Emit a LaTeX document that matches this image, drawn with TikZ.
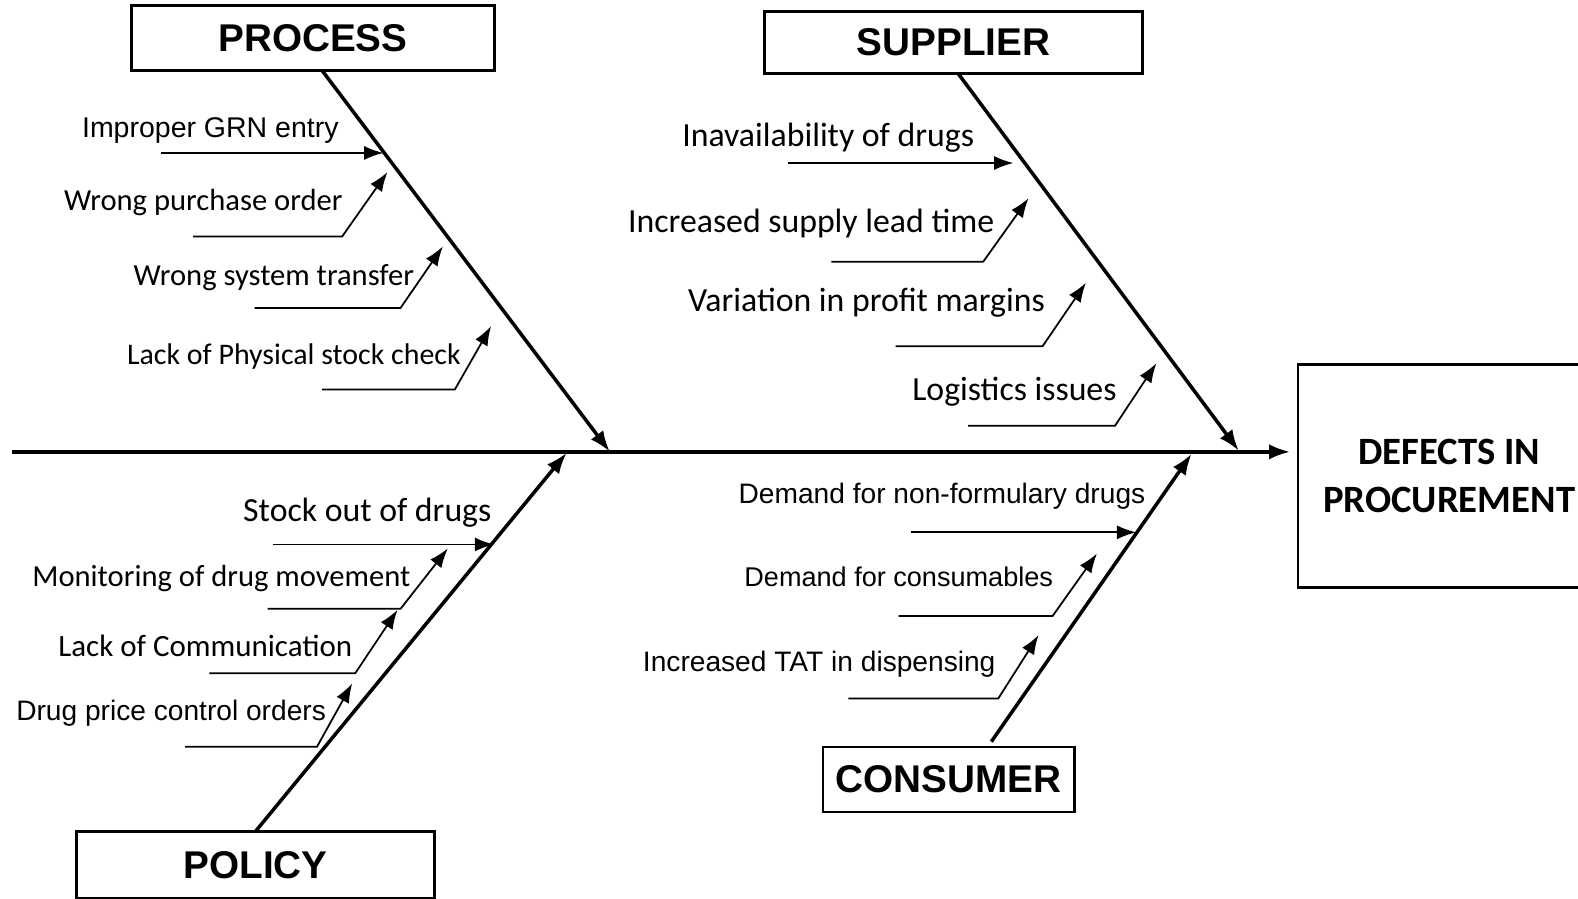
\documentclass[tikz,border=0pt]{standalone}
\usepackage{fontspec}
\setmainfont{Liberation Sans}
\newfontfamily\calibri{Carlito}
\usetikzlibrary{arrows.meta}

\begin{document}
\begin{tikzpicture}[x = 0.01006cm, y = -0.01006cm,
    bone/.style = {line width = 1pt, -{Latex[length = 6pt, width = 4.4pt]}},
    rib/.style = {line width = 0.5pt, -{Latex[length = 5.5pt, width = 4pt]}},
    head/.style = {draw, line width = 0.8pt, inner sep = 0pt, font = \bfseries\fontsize{11}{13}\selectfont},
    arial/.style = {inner sep = 0pt, yshift = -0.8pt, font = \fontsize{#1}{#1}\selectfont},
    calib/.style = {inner sep = 0pt, yshift = -0.8pt, font = \calibri\fontsize{#1}{#1}\selectfont}]
    \useasboundingbox (0,0) rectangle (1568,893);
    % Riquadri
    \node[head, minimum width = 3.62cm, minimum height = 0.65cm] (process) at (311,37.5) {PROCESS};
    \node[head, minimum width = 3.77cm, minimum height = 0.62cm] (supplier) at (947.5,42) {SUPPLIER};
    \node[head, minimum width = 3.58cm, minimum height = 0.67cm] (policy) at (254,859.5) {POLICY};
    \node[head, minimum width = 2.51cm, minimum height = 0.65cm] (consumer) at (942.5,774.5) {CONSUMER};
    \node[draw, line width = 0.8pt, minimum width = 3.02cm, minimum height = 2.23cm, align = center,
        font = \calibri\bfseries\fontsize{11}{13.7}\selectfont] (defects) at (1440,473) {DEFECTS IN\\PROCUREMENT};
    % Spina dorsale
    \coordinate (tail) at (12,449);
    \coordinate (head) at (1282,449);
    \draw[bone] (tail) -- (head);
    % Lische principali
    \coordinate (processA) at (320,70);
    \coordinate (processB) at (606,449);
    \coordinate (supplierA) at (952,73);
    \coordinate (supplierB) at (1231,448);
    \coordinate (policyA) at (254,826);
    \coordinate (policyB) at (563,450);
    \coordinate (consumerA) at (985,737);
    \coordinate (consumerB) at (1184,451);
    \draw[bone] (processA) -- (processB);
    \draw[bone] (supplierA) -- (supplierB);
    \draw[bone] (policyA) -- (policyB);
    \draw[bone] (consumerA) -- (consumerB);
    % Cause: process
    \node[arial = 8.1] (grn) at (209,127) {Improper GRN entry};
    \node[calib = 8.7] (order) at (202,198) {Wrong purchase order};
    \node[calib = 8.7] (transfer) at (272,273) {Wrong system transfer};
    \node[calib = 8.5] (stock) at (292,351) {Lack of Physical stock check};
    \coordinate (p1) at (160,152);
    \coordinate (p2) at (381,152);
    \coordinate (p3) at (192,235);
    \coordinate (p4) at (340,235);
    \coordinate (p5) at (385,171);
    \coordinate (p6) at (253,306);
    \coordinate (p7) at (398,306);
    \coordinate (p8) at (440,245);
    \coordinate (p9) at (320,387);
    \coordinate (p10) at (452,387);
    \coordinate (p11) at (488,324);
    \draw[rib] (p1) -- (p2);
    \draw[rib] (p3) -- (p4) -- (p5);
    \draw[rib] (p6) -- (p7) -- (p8);
    \draw[rib] (p9) -- (p10) -- (p11);
    % Cause: supplier
    \node[calib = 9.6] (inavail) at (823,134) {Inavailability of drugs};
    \node[calib = 9.6] (lead) at (806,219) {Increased supply lead time};
    \node[calib = 9.6] (margin) at (861,298) {Variation in profit margins};
    \node[calib = 9.6] (logistics) at (1008,386) {Logistics issues};
    \coordinate (s1) at (783,162);
    \coordinate (s2) at (1007,162);
    \coordinate (s3) at (826,260);
    \coordinate (s4) at (977,260);
    \coordinate (s5) at (1022,197);
    \coordinate (s6) at (890,344);
    \coordinate (s7) at (1036,344);
    \coordinate (s8) at (1079,281);
    \coordinate (s9) at (962,423);
    \coordinate (s10) at (1108,423);
    \coordinate (s11) at (1149,361);
    \draw[rib] (s1) -- (s2);
    \draw[rib] (s3) -- (s4) -- (s5);
    \draw[rib] (s6) -- (s7) -- (s8);
    \draw[rib] (s9) -- (s10) -- (s11);
    % Cause: policy
    \node[calib = 9.6] (stockout) at (365,507) {Stock out of drugs};
    \node[calib = 8.7] (monitor) at (220,572) {Monitoring of drug movement};
    \node[calib = 8.8] (comm) at (204,639) {Lack of Communication};
    \node[arial = 8] (price) at (170,706) {Drug price control orders};
    \coordinate (q1) at (271,541);
    \coordinate (q2) at (491,541);
    \coordinate (q3) at (266,605);
    \coordinate (q4) at (398,605);
    \coordinate (q5) at (445,545);
    \coordinate (q6) at (208,669);
    \coordinate (q7) at (353,669);
    \coordinate (q8) at (395,606);
    \coordinate (q9) at (184,742);
    \coordinate (q10) at (315,742);
    \coordinate (q11) at (350,679);
    \draw[rib] (q1) -- (q2);
    \draw[rib] (q3) -- (q4) -- (q5);
    \draw[rib] (q6) -- (q7) -- (q8);
    \draw[rib] (q9) -- (q10) -- (q11);
    % Cause: consumer
    \node[arial = 8] (formulary) at (936,490) {Demand for non-formulary drugs};
    \node[arial = 7.7] (consumables) at (893,570) {Demand for consumables};
    \node[arial = 8] (tat) at (814,657) {Increased TAT in dispensing};
    \coordinate (c1) at (905,529);
    \coordinate (c2) at (1129,529);
    \coordinate (c3) at (893,612);
    \coordinate (c4) at (1046,612);
    \coordinate (c5) at (1090,550);
    \coordinate (c6) at (843,694);
    \coordinate (c7) at (992,694);
    \coordinate (c8) at (1032,631);
    \draw[rib] (c1) -- (c2);
    \draw[rib] (c3) -- (c4) -- (c5);
    \draw[rib] (c6) -- (c7) -- (c8);
\end{tikzpicture}
\end{document}
